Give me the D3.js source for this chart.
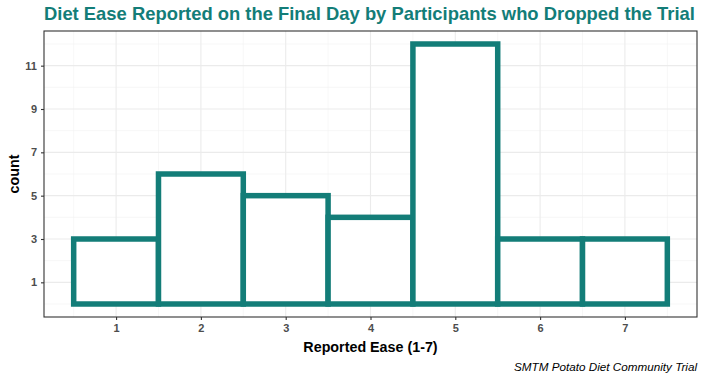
<!DOCTYPE html>
<html><head><meta charset="utf-8">
<script src="https://cdn.jsdelivr.net/npm/d3@7"></script>
<style>body{margin:0;background:#fff}svg{display:block;font-family:"Liberation Sans",Arial,sans-serif}</style>
</head><body>
<svg id="c" width="705" height="378"></svg>
<script>
const categories = [1, 2, 3, 4, 5, 6, 7];
const counts = [3, 6, 5, 4, 12, 3, 3];
const yTicks = [1, 3, 5, 7, 9, 11];
const yMinor = [0, 2, 4, 6, 8, 10, 12];
const xMinor = [0.5, 1.5, 2.5, 3.5, 4.5, 5.5, 6.5, 7.5];
const title = "Diet Ease Reported on the Final Day by Participants who Dropped the Trial";
const xTitle = "Reported Ease (1-7)";
const yTitle = "count";
const caption = "SMTM Potato Diet Community Trial";

const teal = "#137d78";
const svg = d3.select("#c");
const m = {l: 44, r: 8, t: 31, b: 61};
const W = 705, H = 378;
const x = d3.scaleLinear().domain([0.15, 7.85]).range([m.l, W - m.r]);
const y = d3.scaleLinear().domain([-0.6, 12.6]).range([H - m.b, m.t]);

const g = svg.append("g");
// minor grid
g.selectAll(".xm").data(xMinor).enter().append("line")
  .attr("x1", d => x(d)).attr("x2", d => x(d)).attr("y1", y.range()[0]).attr("y2", y.range()[1])
  .attr("stroke", "#f2f2f2").attr("stroke-width", 0.6);
g.selectAll(".ym").data(yMinor).enter().append("line")
  .attr("y1", d => y(d)).attr("y2", d => y(d)).attr("x1", x.range()[0]).attr("x2", x.range()[1])
  .attr("stroke", "#f2f2f2").attr("stroke-width", 0.6);
// major grid
g.selectAll(".xg").data(categories).enter().append("line")
  .attr("x1", d => x(d)).attr("x2", d => x(d)).attr("y1", y.range()[0]).attr("y2", y.range()[1])
  .attr("stroke", "#ebebeb").attr("stroke-width", 1.1);
g.selectAll(".yg").data(yTicks).enter().append("line")
  .attr("y1", d => y(d)).attr("y2", d => y(d)).attr("x1", x.range()[0]).attr("x2", x.range()[1])
  .attr("stroke", "#ebebeb").attr("stroke-width", 1.1);

// bars
g.selectAll(".bar").data(categories).enter().append("rect")
  .attr("x", d => x(d - 0.5)).attr("width", d => x(d + 0.5) - x(d - 0.5))
  .attr("y", (d, i) => y(counts[i])).attr("height", (d, i) => y(0) - y(counts[i]))
  .attr("fill", "#fff").attr("stroke", teal).attr("stroke-width", 5.5);

// panel border
svg.append("rect").attr("x", m.l).attr("y", m.t).attr("width", W - m.r - m.l).attr("height", H - m.b - m.t)
  .attr("fill", "none").attr("stroke", "#333").attr("stroke-width", 1.1);

// axes
const xa = svg.append("g").attr("transform", `translate(0,${H - m.b})`)
  .call(d3.axisBottom(x).tickValues(categories).tickSize(3).tickPadding(4).tickFormat(d3.format("d")));
const ya = svg.append("g").attr("transform", `translate(${m.l},0)`)
  .call(d3.axisLeft(y).tickValues(yTicks).tickSize(3).tickPadding(4).tickFormat(d3.format("d")));
[xa, ya].forEach(a => {
  a.select(".domain").remove();
  a.selectAll(".tick line").attr("stroke", "#333").attr("stroke-width", 1.1);
  a.selectAll(".tick text").attr("fill", "#4d4d4d").attr("font-size", 11).attr("font-weight", "bold")
    .attr("font-family", "Liberation Sans, Arial, sans-serif");
});

svg.append("text").attr("x", m.l).attr("y", 20).text(title)
  .attr("fill", teal).attr("font-size", 18.4).attr("font-weight", "bold");
svg.append("text").attr("x", (x.range()[0] + x.range()[1]) / 2).attr("y", 352).text(xTitle)
  .attr("text-anchor", "middle").attr("font-size", 14.3).attr("font-weight", "bold").attr("fill", "#000");
svg.append("text").attr("transform", `translate(19,${(y.range()[0] + y.range()[1]) / 2}) rotate(-90)`)
  .text(yTitle).attr("text-anchor", "middle").attr("font-size", 14.3).attr("font-weight", "bold").attr("fill", "#000");
svg.append("text").attr("x", W - m.r).attr("y", 371).text(caption)
  .attr("text-anchor", "end").attr("font-size", 11.7).attr("font-style", "italic").attr("fill", "#000");
</script>
</body></html>
